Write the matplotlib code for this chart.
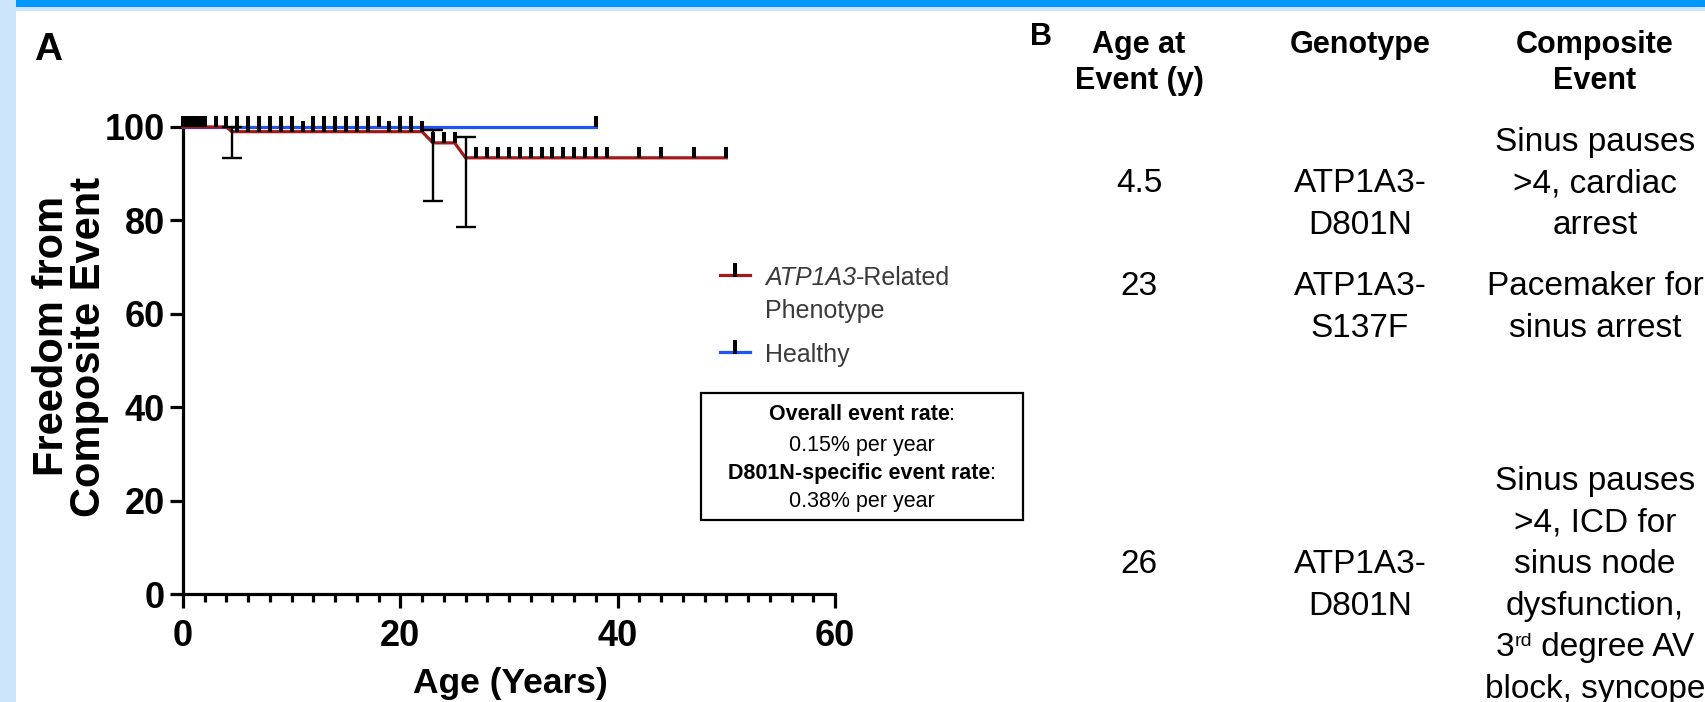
import matplotlib
matplotlib.use('Agg')
import matplotlib.pyplot as plt
import numpy as np
from matplotlib.transforms import Affine2D
from matplotlib.patches import Rectangle
from matplotlib.lines import Line2D
from matplotlib.ticker import MultipleLocator

plt.rcParams['font.family'] = ['Liberation Sans', 'DejaVu Sans']

# ---------------- data ----------------
# Kaplan-Meier curve vertices (age in years, % freedom from event)
red_t = [0, 4, 4.5, 22, 23, 25, 26, 50]
red_s = [100, 100, 99.0, 99.0, 96.6, 96.6, 93.4, 93.4]
blue_t = [0, 38]
blue_s = [100, 100]
# censoring times
red_cens = [0.6, 1.0, 1.4, 1.8, 4, 5, 6, 7, 8, 9, 10, 11, 12, 13, 14, 15, 16, 17,
            19, 20, 21, 22, 23, 24, 25, 27, 28, 29, 30, 31, 32, 33, 34, 35, 36, 37,
            38, 39, 42, 44, 47, 50]
blue_cens = [0.0, 0.3, 0.8, 1.2, 1.6, 2.0, 3, 5, 6, 7, 8, 9, 10, 12, 13, 14, 15, 16,
             17, 18, 20, 21, 38]
# confidence intervals at event times
err_t = [4.5, 23, 26]
err_lo = [93.4, 84.2, 78.6]
err_hi = [100.0, 99.4, 97.9]

xticks = [0, 20, 40, 60]
yticks = [0, 20, 40, 60, 80, 100]

legend_labels = ["ATP1A3", "-Related", "Phenotype", "Healthy"]
box_lines = [("Overall event rate", ":"), ("0.15% per year", ""),
             ("D801N-specific event rate", ":"), ("0.38% per year", "")]

table_headers = [["Age at", "Event (y)"], ["Genotype"], ["Composite", "Event"]]
table_age = ["4.5", "23", "26"]
table_geno = [["ATP1A3-", "D801N"], ["ATP1A3-", "S137F"], ["ATP1A3-", "D801N"]]
table_event = [["Sinus pauses", ">4, cardiac", "arrest"],
               ["Pacemaker for", "sinus arrest"],
               ["Sinus pauses", ">4, ICD for", "sinus node", "dysfunction,",
                "3rd degree AV", "block, syncope"]]

# ---------------- style ----------------
RED = '#A31818'
BLUE = '#1F55F5'
DARK = '#0096FF'
LIGHT = '#CCE5FA'

W, H = 1705, 702
fig = plt.figure(figsize=(W / 100, H / 100), dpi=100)
px = Affine2D().scale(1 / W, -1 / H).translate(0, 1) + fig.transFigure
renderer = fig.canvas.get_renderer()

# frame
fig.add_artist(Rectangle((0, 0), 16, H, transform=px, color=LIGHT, lw=0))
fig.add_artist(Rectangle((16, 0), W - 16, 7, transform=px, color=DARK, lw=0))
fig.add_artist(Rectangle((16, 7), W - 16, 4, transform=px, color=LIGHT, lw=0))

# ---------------- axes ----------------
ax = fig.add_axes([183 / W, 1 - 594 / H, 652 / W, 467 / H])
ax.patch.set_alpha(0)
ax.set_xlim(0, 60)
ax.set_ylim(0, 100)
for s in ['top', 'right']:
    ax.spines[s].set_visible(False)
for s in ['left', 'bottom']:
    ax.spines[s].set_linewidth(2.3)
ax.set_xticks(xticks)
ax.set_yticks(yticks)
ax.xaxis.set_minor_locator(MultipleLocator(2))
ax.tick_params(axis='x', which='major', length=10, width=2.3, pad=8, labelsize=26)
ax.tick_params(axis='x', which='minor', length=5.8, width=2.3)
ax.tick_params(axis='y', which='major', length=9.4, width=2.3, pad=3.6, labelsize=26)
for lbl in ax.get_xticklabels() + ax.get_yticklabels():
    lbl.set_fontweight('bold')

ax.plot(blue_t, blue_s, color=BLUE, lw=2.3, clip_on=False, zorder=3)
ax.plot(red_t, red_s, color=RED, lw=2.3, clip_on=False, zorder=4)

cmark = [(0, 0), (0, 1)]
ax.plot(blue_cens, np.interp(blue_cens, blue_t, blue_s), ls='none', marker=cmark,
        ms=15.5, mew=2.9, mec='k', clip_on=False, zorder=5)
ax.plot(red_cens, np.interp(red_cens, red_t, red_s), ls='none', marker=cmark,
        ms=15.5, mew=2.9, mec='k', clip_on=False, zorder=5)

err_c = np.interp(err_t, red_t, red_s)
eb = ax.errorbar(err_t, err_c, yerr=[err_c - np.array(err_lo), np.array(err_hi) - err_c],
                 fmt='none', ecolor='k', elinewidth=1.7, capsize=7, capthick=1.7, zorder=6)
for art in list(eb.lines[1]) + list(eb.lines[2]):
    art.set_clip_on(False)

# axis labels
fig.text(510, 693, "Age (Years)", transform=px, ha='center', va='baseline',
         fontsize=25.5, fontweight='bold')
fig.text(63, 336, "Freedom from", transform=px, ha='center', va='baseline',
         rotation=90, rotation_mode='anchor', fontsize=30, fontweight='bold')
fig.text(100, 347, "Composite Event", transform=px, ha='center', va='baseline',
         rotation=90, rotation_mode='anchor', fontsize=30, fontweight='bold')

fig.text(34, 60, "A", transform=px, ha='left', va='baseline', fontsize=28, fontweight='bold')
fig.text(1030, 45, "B", transform=px, ha='left', va='baseline', fontsize=22, fontweight='bold')


def mixed(parts, x, y, align='left', **common):
    items = []
    for s, kw in parts:
        kw = dict(kw)
        dy = kw.pop('dy', 0)
        props = dict(common)
        props.update(kw)
        t = fig.text(0, 0, s, transform=px, ha='left', va='baseline', **props)
        w = t.get_window_extent(renderer).width
        items.append((t, w, dy))
    total = sum(w for _, w, _ in items)
    x0 = x - total / 2 if align == 'center' else x
    for t, w, dy in items:
        t.set_position((x0, y + dy))
        x0 += w


# legend
fig.add_artist(Line2D([720, 750], [275, 275], transform=px, color=RED, lw=2.3))
fig.add_artist(Line2D([735, 735], [275, 265], transform=px, color='k', lw=2.9))
fig.add_artist(Line2D([720, 750], [352, 352], transform=px, color=BLUE, lw=2.3))
fig.add_artist(Line2D([735, 735], [352, 342], transform=px, color='k', lw=2.9))
LG = '#3a3a3a'
mixed([(legend_labels[0], {'style': 'italic'}), (legend_labels[1], {})], 765, 285,
      fontsize=18, color=LG)
fig.text(765, 318, legend_labels[2], transform=px, ha='left', va='baseline', fontsize=18, color=LG)
fig.text(765, 362, legend_labels[3], transform=px, ha='left', va='baseline', fontsize=18, color=LG)

# event-rate box
fig.add_artist(Rectangle((701, 393), 322, 127, transform=px, fill=False, ec='k', lw=1.6))
box_base = [420, 451, 479, 507]
for (a, b), yb in zip(box_lines, box_base):
    if b:
        mixed([(a, {'fontweight': 'bold'}), (b, {})], 862, yb, align='center', fontsize=15.5)
    else:
        mixed([(a, {})], 862, yb, align='center', fontsize=15.5)

# table
col_x = [1139, 1360, 1595]
head_base = [53, 89]
for cx, lines in zip(col_x, table_headers):
    for ln, yb in zip(lines, head_base):
        fig.text(cx, yb, ln, transform=px, ha='center', va='baseline', fontsize=22,
                 fontweight='bold')

LS = 41.6
age_base = [192, 295, 573]
ev_start = [151, 295, 490]
for i in range(3):
    fig.text(col_x[0], age_base[i], table_age[i], transform=px, ha='center',
             va='baseline', fontsize=24)
    for j, ln in enumerate(table_geno[i]):
        fig.text(col_x[1], age_base[i] + j * LS, ln, transform=px, ha='center',
                 va='baseline', fontsize=24)
    for j, ln in enumerate(table_event[i]):
        yb = ev_start[i] + j * LS
        if ln.startswith("3rd"):
            mixed([("3", {}), ("rd", {'fontsize': 14, 'dy': -10}), (ln[3:], {})],
                  col_x[2], yb, align='center', fontsize=24)
        else:
            fig.text(col_x[2], yb, ln, transform=px, ha='center', va='baseline',
                     fontsize=24)

fig.savefig('out.png', dpi=100)
